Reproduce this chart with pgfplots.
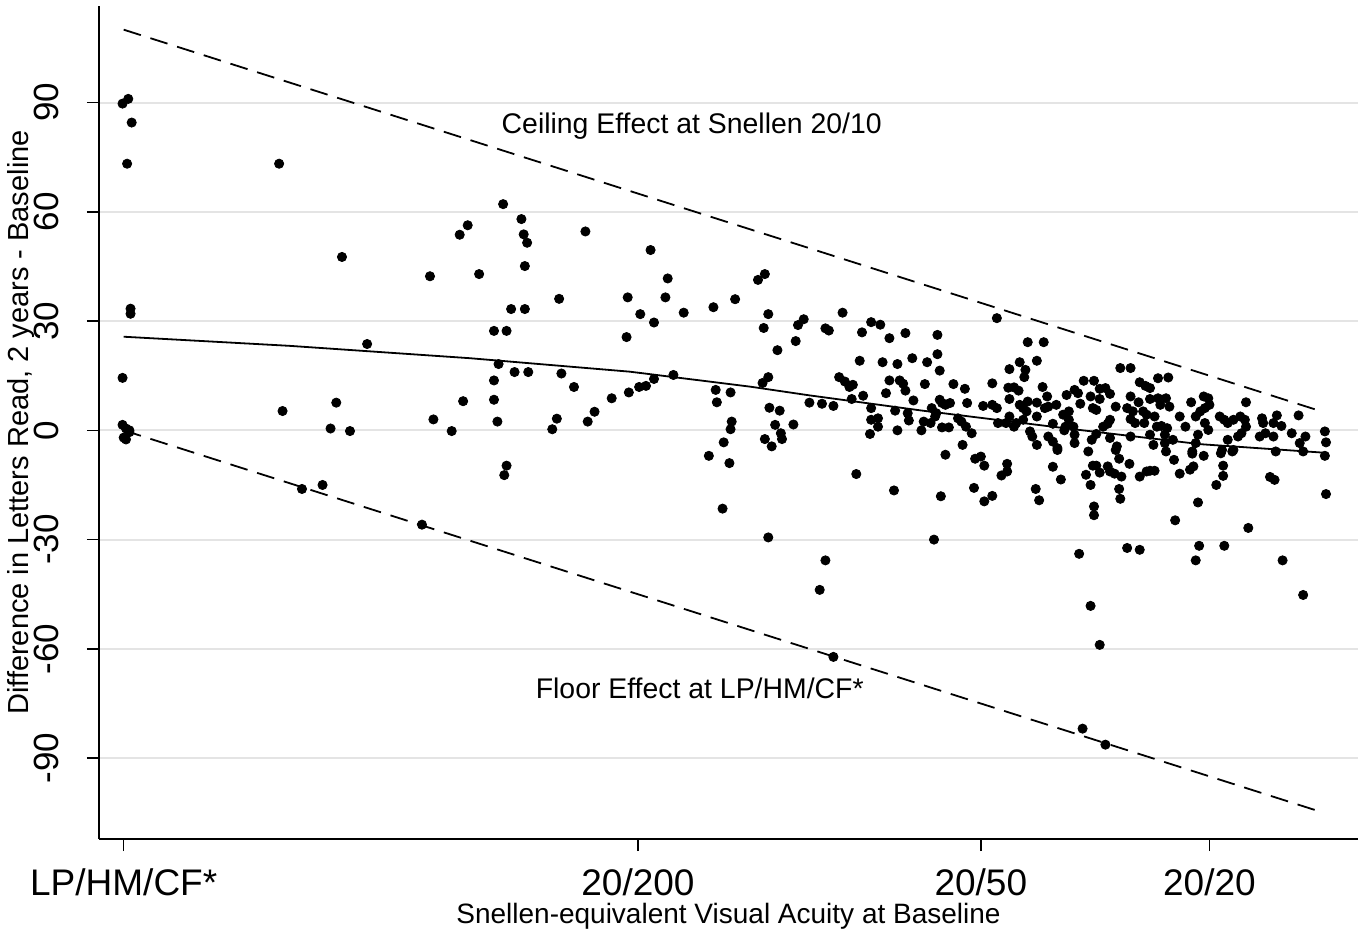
\documentclass[border=0pt]{standalone}
\usepackage{fontspec}
\setmainfont{Liberation Sans}
\usepackage{pgfplots}
\pgfplotsset{compat=1.18}
\definecolor{gridgray}{RGB}{228,228,228}
\begin{document}
\begin{tikzpicture}
\begin{axis}[
  scale only axis, width=629.5pt, height=416.5pt,
  at={(0,0)}, anchor=south west,
  xmin=-12.16, xmax=98.0, ymin=-112.2, ymax=116.5,
  axis x line*=bottom, axis y line*=left,
  axis line style={-, line width=1pt, black},
  xtick={-10,35,65,85},
  xticklabels={LP/HM/CF*,20/200,20/50,20/20},
  ytick={-90,-60,-30,0,30,60,90},
  yticklabels={-90,-60,-30,0,30,60,90},
  xtick pos=bottom, ytick pos=left,
  tick align=outside, major tick length=6pt,
  tick style={black, line width=0.8pt},
  ymajorgrids, grid style={line width=1pt, gridgray},
  xticklabel style={font=\fontsize{18.5}{18.5}\selectfont, anchor=north, inner sep=0pt},
  yticklabel style={font=\fontsize{17.5}{17.5}\selectfont, rotate=90, anchor=south, inner sep=0pt},
  xticklabel shift=8.5pt, yticklabel shift=14pt,
  xlabel={Snellen-equivalent Visual Acuity at Baseline},
  ylabel={Difference in Letters Read, 2 years - Baseline},
  xlabel style={at={(axis description cs:0.5,-0.0768)}, anchor=north, inner sep=0pt, font=\fontsize{14}{14}\selectfont},
  ylabel style={at={(axis description cs:-0.0505,0.5)}, anchor=south, inner sep=0pt, font=\fontsize{14.5}{14.5}\selectfont},
]
% ceiling and floor lines
\addplot[black, line width=0.9pt, dash pattern=on 9pt off 5pt] coordinates {(-10,110) (95,5)};
\addplot[black, line width=0.9pt, dash pattern=on 9pt off 5pt] coordinates {(-10,0) (95,-105)};
% smoothed fit
\addplot[black, line width=0.9pt] coordinates {(-10,25.7) (4.5,23.2) (20.3,19.8) (34.3,16.1) (44.8,12.0) (50,9.6) (59.9,5.4) (72.3,0.6) (84.2,-3.8) (95.3,-6.2)};
% scatter
\addplot[only marks, mark=*, mark size=2.3pt, mark options={fill=black, draw=black}] table {
x y
-10.1 89.7
-9.6 91.0
-9.3 84.5
-9.7 73.2
3.6 73.2
9.1 47.6
16.8 42.3
19.4 53.7
20.1 56.3
-9.4 33.4
-9.4 32.0
11.3 23.7
-10.1 14.4
3.9 5.3
8.6 7.6
8.1 0.5
9.8 -0.2
17.1 3.0
18.7 -0.2
19.7 8.0
-10.1 1.5
-9.8 0.5
-9.5 -0.5
-10.0 -2.0
-9.8 -2.5
-9.5 0.0
5.6 -16.1
7.4 -15.0
16.1 -25.9
23.2 62.1
24.8 58.0
25.0 53.8
25.3 51.5
30.4 54.6
21.1 42.9
25.1 45.1
36.1 49.5
37.6 41.7
28.1 36.1
34.1 36.5
37.4 36.5
23.9 33.3
25.1 33.3
35.2 31.9
36.4 29.6
39.0 32.3
41.6 33.8
43.5 36.0
45.5 41.3
46.1 42.9
46.4 31.9
46.0 28.1
49.0 28.9
49.5 30.5
48.8 24.5
47.2 22.0
22.4 27.3
23.5 27.3
34.0 25.6
22.8 18.2
24.2 16.0
25.4 16.0
28.3 15.6
22.4 13.7
29.4 11.9
22.4 8.4
22.7 2.4
27.5 0.3
27.9 3.2
30.6 2.4
31.2 5.1
32.7 8.8
34.2 10.4
35.1 11.9
35.7 12.2
36.4 14.1
38.1 15.2
41.8 11.1
43.1 10.4
41.9 7.7
45.9 13.0
46.4 14.6
46.5 6.2
47.4 5.4
47.0 1.5
48.6 1.6
47.5 -0.8
47.6 -2.4
46.1 -2.4
46.7 -4.4
43.2 2.4
43.1 0.3
42.5 -3.3
41.2 -7.0
43.0 -9.0
50.0 7.6
23.5 -9.7
23.3 -12.3
42.4 -21.5
46.4 -29.4
54.1 -12.0
57.4 -16.5
61.5 -18.1
60.9 -30.0
51.4 -35.7
50.9 -43.8
61.9 -6.7
64.5 -7.8
65.0 -7.2
65.3 -9.7
67.3 -9.2
67.3 -11.3
66.8 -12.4
64.4 -15.8
66.0 -18.0
65.3 -19.5
69.8 -16.1
70.1 -19.2
71.3 -10.0
72.0 -13.5
71.7 -5.4
74.4 -5.8
74.2 -12.2
74.6 -15.0
74.8 -9.7
75.1 -9.7
75.4 -11.6
76.1 -9.9
76.3 -11.3
76.7 -11.9
77.3 -12.7
77.1 -7.8
76.8 -5.4
78.0 -9.2
78.9 -12.7
79.5 -11.3
79.8 -11.1
80.2 -11.1
77.1 -16.1
77.2 -18.8
74.9 -20.9
74.9 -23.3
74.6 -48.2
73.6 -33.9
77.8 -32.3
78.9 -32.8
82.0 -24.7
84.1 -31.7
83.8 -35.7
86.3 -31.7
88.4 -26.8
91.4 -35.7
93.2 -45.2
95.2 -17.5
84.0 -19.8
82.4 -11.9
81.9 -8.1
81.2 -5.8
83.3 -10.8
83.6 -9.9
83.5 -6.4
84.5 -7.0
85.6 -15.0
86.2 -9.7
86.2 -12.5
86.0 -6.3
87.0 -5.8
90.3 -12.8
90.7 -13.6
90.8 -5.8
93.2 -5.8
95.1 -7.0
75.4 -58.9
52.1 -62.2
73.9 -81.9
75.9 -86.3
52.9 32.3
51.4 28.0
51.7 27.4
55.4 29.7
56.2 29.0
54.6 26.9
57.0 25.3
58.4 26.7
61.2 26.2
66.4 30.8
69.1 24.2
70.5 24.2
54.4 19.1
56.4 18.7
57.7 18.2
59.0 19.8
60.3 18.7
61.2 20.9
61.4 16.4
52.6 14.6
53.1 13.4
53.5 11.9
53.8 12.5
53.7 8.6
54.7 9.5
51.1 7.3
52.1 6.7
57.0 13.7
57.9 13.7
58.2 12.8
58.4 10.9
56.7 10.2
55.4 6.1
57.5 5.4
59.1 8.2
60.1 12.7
58.6 4.7
58.7 2.7
55.4 2.9
56.0 3.3
56.0 1.0
55.3 -1.0
57.7 0.0
59.8 0.0
60.0 2.4
60.6 2.0
60.7 6.1
61.1 4.7
61.0 3.8
61.4 8.4
61.6 7.5
61.9 7.0
62.3 7.5
62.6 12.7
63.6 11.4
63.8 7.5
61.6 0.8
62.2 0.8
63.0 3.3
63.3 2.4
63.7 1.0
64.2 -0.8
63.4 -4.0
65.2 6.7
66.0 7.0
66.4 6.1
66.0 12.9
66.5 2.0
67.2 2.0
67.5 16.8
68.4 18.7
68.9 16.6
68.8 14.6
69.9 19.1
67.4 11.7
67.9 11.8
68.3 10.9
67.5 8.6
68.4 7.0
68.7 6.1
69.1 7.9
69.0 5.2
69.9 7.6
70.4 11.9
70.8 9.3
71.6 7.0
70.9 6.5
69.9 3.8
70.6 6.1
67.5 3.8
67.9 1.0
68.1 2.0
68.7 2.9
69.3 -0.3
69.5 -1.7
69.9 -4.0
70.9 -1.7
71.3 -3.1
71.7 -4.9
71.3 1.8
72.5 9.7
72.3 0.0
72.7 2.9
72.2 4.3
77.2 17.1
78.1 17.1
80.5 14.3
81.4 14.5
78.9 13.2
79.4 12.2
79.8 11.6
74.0 13.6
74.9 13.6
73.2 11.1
73.5 10.2
74.6 9.3
75.4 11.4
75.9 11.6
76.3 10.0
75.4 8.6
73.7 7.3
74.8 6.1
75.1 5.6
76.8 6.5
78.1 9.3
78.8 7.7
77.8 6.1
78.3 5.2
78.1 3.1
78.5 2.0
79.8 8.6
80.5 8.8
81.2 8.8
80.7 7.0
81.5 6.5
79.2 5.2
79.5 4.3
79.3 2.0
80.2 3.8
80.4 1.0
80.8 1.2
81.3 0.6
81.1 -1.2
72.7 5.2
72.4 1.0
73.1 1.0
73.2 -1.2
73.2 -3.5
74.7 -2.6
75.1 -1.0
75.7 1.0
76.1 1.8
76.3 2.9
76.3 -2.1
76.9 -4.4
78.1 -1.7
79.8 -1.2
80.1 -4.0
81.1 -3.5
81.8 -2.6
82.4 3.8
83.4 7.7
83.8 3.8
84.2 5.2
84.6 6.1
84.9 8.8
84.5 9.3
85.0 7.0
82.9 1.0
84.0 -1.2
83.8 -3.5
83.5 -5.8
84.6 2.0
84.9 0.1
85.9 3.8
86.3 2.9
86.6 2.0
87.1 2.9
87.7 3.8
88.1 2.9
88.2 1.0
87.8 -0.8
87.5 -1.7
86.6 -2.6
86.1 -5.4
87.1 -5.4
88.2 7.7
89.6 3.3
89.7 2.0
89.4 -1.7
89.9 -0.8
90.6 2.0
90.9 4.1
91.3 1.2
90.6 -1.7
92.2 -0.8
92.8 4.1
93.4 -1.7
92.9 -3.5
95.1 -0.3
95.2 -3.3
};
\node[font=\fontsize{14.2}{14.2}\selectfont] at (axis cs:39.7,83.6) {Ceiling Effect at Snellen 20/10};
\node[font=\fontsize{14.2}{14.2}\selectfont] at (axis cs:40.4,-70.9) {Floor Effect at LP/HM/CF*};
\end{axis}
\pgfresetboundingbox
\path[use as bounding box] (-49.5pt,-47pt) rectangle (630.5pt,419.5pt);
\end{tikzpicture}
\end{document}
